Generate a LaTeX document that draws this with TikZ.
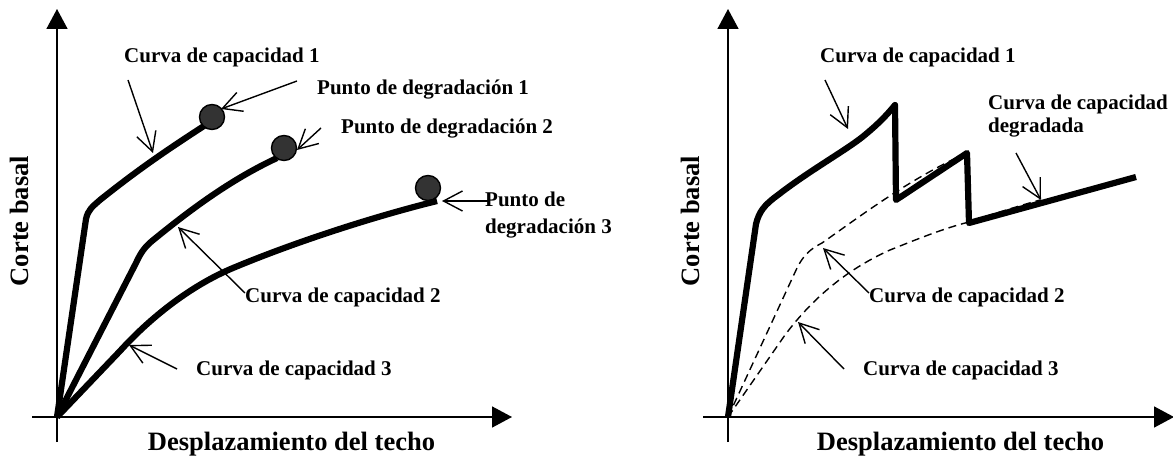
\documentclass[tikz,border=0pt]{standalone}
\usepackage{fontspec}
\setmainfont{Liberation Serif}
\usetikzlibrary{arrows.meta}
\begin{document}
\begin{tikzpicture}[x=1pt,y=-1pt,
  axis/.style={line width=1.6pt,-{Triangle[length=20pt,width=21pt]}},
  curve/.style={line width=6.2pt,line join=round},
  dcurve/.style={line width=1.4pt,dash pattern=on 8pt off 5pt},
  pointer/.style={line width=1.4pt,-{Straight Barb[length=19pt,width=20pt]}},
  lbl/.style={font=\bfseries\fontsize{21}{24}\selectfont,inner sep=0pt,anchor=base west},
  ttl/.style={font=\bfseries\fontsize{26.5}{30}\selectfont,inner sep=0pt,anchor=base},
  dot/.style={circle,fill=black!80,draw=black,line width=1.4pt,minimum size=25pt,inner sep=0pt}]

\useasboundingbox (0,0) rectangle (1173,457);

% ===== Left panel =====
\coordinate (yb1) at (57,442); \coordinate (yt1) at (57,9);
\coordinate (xb1) at (32,417); \coordinate (xt1) at (512,417);
\draw[axis] (yb1) -- (yt1);
\draw[axis] (xb1) -- (xt1);

\draw[curve] (57,417) -- (86,219) .. controls (88,210) and (92,207) .. (100,200)
  .. controls (140,168) and (170,148) .. (207,124);
\draw[curve] (57,417) -- (136,263) .. controls (141,252) and (145,247) .. (152,241)
  .. controls (190,210) and (230,180) .. (277,158);
\draw[curve] (57,417) -- (120,351) .. controls (150,318) and (190,286) .. (233,268)
  .. controls (300,240) and (380,215) .. (437,201);

\node[dot] (d1) at (212,117) {};
\node[dot] (d2) at (284,148) {};
\node[dot] (d3) at (428,188) {};

\node[lbl] (c1L) at (124,63) {Curva de capacidad 1};
\node[lbl] (p1L) at (317,95) {Punto de degradación 1};
\node[lbl] (p2L) at (341,134) {Punto de degradación 2};
\node[lbl] (p3L) at (485,207) {Punto de};
\node[lbl] (p3Lb) at (485,234) {degradación 3};
\node[lbl] (c2L) at (245,302) {Curva de capacidad 2};
\node[lbl] (c3L) at (196,375) {Curva de capacidad 3};
\node[ttl] (xL) at (291.5,450) {Desplazamiento del techo};
\node[ttl,rotate=90] (yL) at (28,221) {Corte basal};

\coordinate (a1s) at (128,80);  \coordinate (a1t) at (153,153);
\coordinate (p1s) at (297,81);  \coordinate (p1t) at (221,109);
\coordinate (p2s) at (321,128); \coordinate (p2t) at (297,150);
\coordinate (p3s) at (488,201); \coordinate (p3t) at (442,201);
\coordinate (c2s) at (245,293); \coordinate (c2t) at (178,227);
\coordinate (c3s) at (177,369); \coordinate (c3t) at (129,345);
\draw[pointer] (a1s) -- (a1t);
\draw[pointer] (p1s) -- (p1t);
\draw[pointer] (p2s) -- (p2t);
\draw[pointer] (p3s) -- (p3t);
\draw[pointer] (c2s) -- (c2t);
\draw[pointer] (c3s) -- (c3t);

% ===== Right panel =====
\coordinate (yb2) at (728,442); \coordinate (yt2) at (728,9);
\coordinate (xb2) at (703,417); \coordinate (xt2) at (1174,417);
\draw[axis] (yb2) -- (yt2);
\draw[axis] (xb2) -- (xt2);

\draw[dcurve] (728,417) -- (797,268) .. controls (803,256) and (810,249) .. (822,243)
  .. controls (855,220) and (910,178) .. (967,153);
\draw[dcurve] (728,417) -- (785,335) .. controls (815,295) and (850,268) .. (890,250)
  .. controls (920,238) and (945,228) .. (969,222)
  .. controls (990,215) and (1015,207) .. (1040,200);

\draw[curve] (728,417) -- (756,224) .. controls (759,212) and (764,205) .. (778,195)
  .. controls (810,170) and (850,148) .. (866,134)
  .. controls (878,124) and (886,116) .. (895,105)
  -- (896,200) -- (967,153) -- (969,223) -- (1136,177);

\node[lbl] (c1R) at (820,63) {Curva de capacidad 1};
\node[lbl] (dgR) at (988,110) {Curva de capacidad};
\node[lbl] (dgRb) at (988,133) {degradada};
\node[lbl] (c2R) at (869,302) {Curva de capacidad 2};
\node[lbl] (c3R) at (863,375) {Curva de capacidad 3};
\node[ttl] (xR) at (960.5,450) {Desplazamiento del techo};
\node[ttl,rotate=90] (yR) at (699,221) {Corte basal};

\coordinate (b1s) at (825,80);   \coordinate (b1t) at (848,129);
\coordinate (dgs) at (1016,153); \coordinate (dgt) at (1041,200);
\coordinate (b2s) at (869,293);  \coordinate (b2t) at (823,248);
\coordinate (b3s) at (844,369);  \coordinate (b3t) at (798,322);
\draw[pointer] (b1s) -- (b1t);
\draw[pointer] (dgs) -- (dgt);
\draw[pointer] (b2s) -- (b2t);
\draw[pointer] (b3s) -- (b3t);
\end{tikzpicture}
\end{document}
